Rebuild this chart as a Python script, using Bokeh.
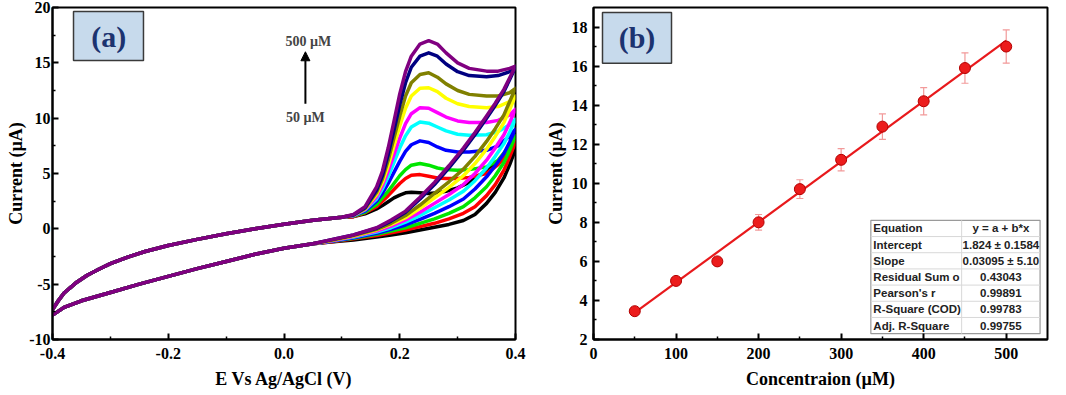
from bokeh.plotting import figure
from bokeh.layouts import row
from bokeh.models import (Range1d, FixedTicker, Whisker, ColumnDataSource, Arrow,
                          NormalHead, Label, BoxAnnotation, TeeHead, PrintfTickFormatter)
from bokeh.embed import file_html
from bokeh.resources import INLINE
from bokeh.core.properties import value

# ---------------- Panel (a): cyclic voltammograms ----------------
cv_labels = ["50 µM", "100 µM", "150 µM", "200 µM", "250 µM",
             "300 µM", "350 µM", "400 µM", "450 µM", "500 µM"]
cv_colors = ["#000000", "#ff0000", "#00e600", "#0000ff", "#00ffff",
             "#ff00ff", "#ffff00", "#808000", "#000080", "#800080"]

# forward scan, common part
E_up = [-0.40, -0.39, -0.38, -0.36, -0.34, -0.32, -0.30, -0.27, -0.24, -0.20,
        -0.15, -0.10, -0.05, 0.00, 0.05, 0.10]
I_up = [-7.3, -6.5, -5.8, -4.9, -4.2, -3.65, -3.15, -2.55, -2.05, -1.5,
        -0.95, -0.45, 0.0, 0.42, 0.78, 1.05]

# forward scan, oxidation peak region
E_fwd = [0.12, 0.14, 0.16, 0.17, 0.18, 0.19, 0.20, 0.21, 0.22, 0.235,
         0.25, 0.265, 0.28, 0.30, 0.32, 0.35, 0.37, 0.39, 0.40]
fwd_50 = [1.1, 1.35, 1.8, 2.1, 2.45, 2.8, 3.05, 3.25, 3.3, 3.25, 3.2, 3.25, 3.4, 3.7, 4.2, 5.3, 6.0, 6.7, 7.2]
fwd_100 = [1.1, 1.45, 2.0, 2.5, 3.0, 3.55, 4.1, 4.55, 4.85, 4.9, 4.75, 4.6, 4.55, 4.55, 4.65, 5.0, 5.8, 7.0, 7.85]
fwd_150 = [1.15, 1.5, 2.2, 2.8, 3.4, 4.1, 4.8, 5.35, 5.75, 5.9, 5.75, 5.5, 5.35, 5.3, 5.35, 5.6, 6.2, 7.5, 8.4]
fwd_200 = [1.2, 1.6, 2.5, 3.2, 4.1, 5.1, 6.1, 7.0, 7.6, 7.95, 7.8, 7.4, 7.1, 6.95, 6.95, 7.1, 7.5, 8.4, 9.0]
fwd_250 = [1.2, 1.7, 2.7, 3.6, 4.7, 6.0, 7.3, 8.4, 9.2, 9.65, 9.55, 9.2, 8.85, 8.55, 8.45, 8.5, 8.8, 9.4, 9.9]
fwd_300 = [1.2, 1.75, 2.9, 3.9, 5.2, 6.7, 8.2, 9.5, 10.4, 10.95, 10.9, 10.5, 10.1, 9.75, 9.6, 9.6, 9.8, 10.3, 10.8]
fwd_350 = [1.25, 1.8, 3.1, 4.2, 5.7, 7.5, 9.3, 10.9, 12.0, 12.7, 12.75, 12.4, 11.8, 11.3, 11.05, 10.95, 11.05, 11.5, 12.0]
fwd_400 = [1.25, 1.85, 3.3, 4.5, 6.2, 8.2, 10.2, 12.0, 13.2, 13.95, 14.1, 13.7, 13.1, 12.5, 12.15, 12.0, 12.0, 12.3, 12.7]
fwd_450 = [1.25, 1.9, 3.5, 4.8, 6.7, 8.9, 11.2, 13.2, 14.6, 15.6, 15.9, 15.6, 14.9, 14.2, 13.85, 13.75, 13.85, 14.2, 14.6]
fwd_500 = [1.3, 2.0, 3.8, 5.2, 7.3, 9.7, 12.2, 14.2, 15.6, 16.7, 17.0, 16.7, 15.9, 15.0, 14.5, 14.25, 14.25, 14.5, 14.7]

# reverse scan, right part
E_rev = [0.40, 0.39, 0.38, 0.365, 0.35, 0.33, 0.31, 0.285, 0.26, 0.235, 0.21, 0.185, 0.16, 0.12, 0.08]
rev_50 = [7.2, 5.8, 4.6, 3.3, 2.3, 1.3, 0.75, 0.4, 0.15, -0.1, -0.35, -0.55, -0.75, -1.0, -1.2]
rev_100 = [7.85, 6.5, 5.3, 4.0, 3.0, 2.0, 1.4, 0.9, 0.5, 0.2, -0.1, -0.35, -0.6, -0.9, -1.2]
rev_150 = [8.4, 7.1, 6.0, 4.8, 3.8, 2.8, 2.0, 1.4, 0.9, 0.5, 0.1, -0.2, -0.5, -0.85, -1.15]
rev_200 = [9.0, 7.85, 6.8, 5.7, 4.7, 3.6, 2.7, 2.0, 1.4, 0.85, 0.35, -0.05, -0.4, -0.8, -1.15]
rev_250 = [9.9, 8.75, 7.7, 6.55, 5.5, 4.35, 3.4, 2.6, 1.9, 1.2, 0.6, 0.1, -0.3, -0.75, -1.1]
rev_300 = [10.8, 9.6, 8.5, 7.3, 6.2, 5.0, 4.0, 3.1, 2.3, 1.5, 0.8, 0.25, -0.2, -0.7, -1.1]
rev_350 = [12.0, 10.8, 9.6, 8.35, 7.2, 5.9, 4.8, 3.75, 2.8, 1.85, 1.0, 0.4, -0.1, -0.65, -1.05]
rev_400 = [12.7, 11.5, 10.3, 9.05, 7.9, 6.55, 5.4, 4.25, 3.2, 2.15, 1.2, 0.5, -0.05, -0.6, -1.05]
rev_450 = [14.6, 13.5, 12.4, 11.15, 10.0, 8.5, 7.1, 5.5, 4.0, 2.7, 1.5, 0.7, 0.05, -0.55, -1.0]
rev_500 = [14.7, 13.65, 12.6, 11.35, 10.2, 8.7, 7.3, 5.7, 4.2, 2.85, 1.6, 0.8, 0.1, -0.55, -1.0]

# reverse scan, common part
E_low = [0.05, 0.00, -0.05, -0.10, -0.15, -0.20, -0.25, -0.30, -0.35, -0.38, -0.40]
I_low = [-1.35, -1.75, -2.3, -2.95, -3.6, -4.3, -5.0, -5.75, -6.5, -7.1, -7.8]

fwd_all = [fwd_50, fwd_100, fwd_150, fwd_200, fwd_250, fwd_300, fwd_350, fwd_400, fwd_450, fwd_500]
rev_all = [rev_50, rev_100, rev_150, rev_200, rev_250, rev_300, rev_350, rev_400, rev_450, rev_500]

# ---------------- Panel (b): calibration ----------------
conc = [50, 100, 150, 200, 250, 300, 350, 400, 450, 500]
peak_current = [3.45, 5.0, 6.0, 8.0, 9.7, 11.2, 12.9, 14.2, 15.9, 17.0]
peak_err = [0.1, 0.15, 0.2, 0.4, 0.48, 0.57, 0.65, 0.7, 0.78, 0.85]
fit_intercept = 1.824
fit_slope = 0.03095
table_names = ["Equation", "Intercept", "Slope", "Residual Sum o", "Pearson's r",
               "R-Square (COD)", "Adj. R-Square"]
table_values = ["y = a + b*x", "1.824 ± 0.1584", "0.03095 ± 5.10", "0.43043",
                "0.99891", "0.99783", "0.99755"]

SERIF = "Liberation Serif"


def style_axes(p):
    p.grid.visible = False
    p.outline_line_color = "black"
    p.outline_line_width = 2
    p.background_fill_color = "white"
    p.border_fill_color = "white"
    for ax in p.axis:
        ax.axis_line_width = 2
        ax.major_tick_in = 6
        ax.major_tick_out = 0
        ax.minor_tick_in = 3
        ax.minor_tick_out = 0
        ax.major_tick_line_width = 2
        ax.minor_tick_line_width = 1.5
        ax.major_label_text_font = SERIF
        ax.major_label_text_font_style = "bold"
        ax.major_label_text_font_size = "16px"
        ax.major_label_text_color = "black"
        ax.axis_label_text_font = SERIF
        ax.axis_label_text_font_style = "bold"
        ax.axis_label_text_font_size = "18px"
        ax.axis_label_text_color = "black"


# ---- figure (a)
pa = figure(width=540, height=395, output_backend="svg", toolbar_location=None,
            x_range=Range1d(-0.4, 0.4), y_range=Range1d(-10, 20),
            min_border_left=52, min_border_right=25, min_border_top=7, min_border_bottom=56,
            x_axis_label="E Vs Ag/AgCl (V)", y_axis_label="Current (µA)")
style_axes(pa)
pa.xaxis.ticker = FixedTicker(ticks=[-0.4, -0.2, 0.0, 0.2, 0.4], minor_ticks=[-0.3, -0.1, 0.1, 0.3])
pa.xaxis.formatter = PrintfTickFormatter(format="%.1f")
pa.yaxis.ticker = FixedTicker(ticks=[-10, -5, 0, 5, 10, 15, 20],
                              minor_ticks=[-7.5, -2.5, 2.5, 7.5, 12.5, 17.5])
pa.yaxis.formatter = PrintfTickFormatter(format="%d")
pa.xaxis.major_label_standoff = 8
pa.xaxis.axis_label_standoff = 7
pa.yaxis.major_label_standoff = 2
pa.yaxis.axis_label_standoff = 0

for col, fw, rv, lab in zip(cv_colors, fwd_all, rev_all, cv_labels):
    xs = E_up + E_fwd + E_rev + E_low
    ys = I_up + fw + rv + I_low
    pa.line(xs, ys, line_color=col, line_width=3.5, line_join="round", line_cap="round")

box_a = BoxAnnotation(left=-0.3637, right=-0.2428, bottom=15.2, top=19.64,
                      fill_color="#c7daec", fill_alpha=1.0, line_color="#3a3a3a",
                      line_width=1.5, line_alpha=1.0)
pa.add_layout(box_a)
pa.add_layout(Label(x=-0.303, y=17.42, text="(a)", text_align="center", text_baseline="middle",
                    text_font=SERIF, text_font_style="bold", text_font_size="30px",
                    text_color="#1c3370"))
pa.add_layout(Arrow(end=NormalHead(size=9, fill_color="black", line_color="black"),
                    x_start=0.037, y_start=11.3, x_end=0.037, y_end=16.0,
                    line_color="black", line_width=2))
pa.add_layout(Label(x=0.042, y=16.9, text="500 µM", text_align="center", text_baseline="middle",
                    text_font=SERIF, text_font_style="bold", text_font_size="14px"))
pa.add_layout(Label(x=0.037, y=10.05, text="50 µM", text_align="center", text_baseline="middle",
                    text_font=SERIF, text_font_style="bold", text_font_size="14px"))

# ---- figure (b)
pb = figure(width=526, height=395, output_backend="svg", toolbar_location=None,
            x_range=Range1d(0, 550), y_range=Range1d(2, 19),
            min_border_left=53, min_border_right=19, min_border_top=7, min_border_bottom=56,
            x_axis_label="Concentraion (µM)", y_axis_label="Current (µA)")
style_axes(pb)
pb.xaxis.ticker = FixedTicker(ticks=[0, 100, 200, 300, 400, 500],
                              minor_ticks=[50, 150, 250, 350, 450])
pb.yaxis.ticker = FixedTicker(ticks=[2, 4, 6, 8, 10, 12, 14, 16, 18],
                              minor_ticks=[3, 5, 7, 9, 11, 13, 15, 17])
pb.xaxis.major_label_standoff = 8
pb.xaxis.axis_label_standoff = 7
pb.yaxis.major_label_standoff = 6
pb.yaxis.axis_label_standoff = 3

src = ColumnDataSource(dict(
    x=conc, y=peak_current,
    upper=[c + e for c, e in zip(peak_current, peak_err)],
    lower=[c - e for c, e in zip(peak_current, peak_err)]))
pb.add_layout(Whisker(base="x", upper="upper", lower="lower", source=src,
                      line_color="#f29a9a", line_width=1.2,
                      upper_head=TeeHead(size=7, line_color="#f29a9a", line_width=1.2),
                      lower_head=TeeHead(size=7, line_color="#f29a9a", line_width=1.2)))
fit_x = [conc[0], conc[-1]]
fit_y = [fit_intercept + fit_slope * v for v in fit_x]
pb.line(fit_x, fit_y, line_color="#e8191c", line_width=2.2)
pb.scatter("x", "y", source=src, size=11, fill_color="#ec1c1c", line_color="#b30000", line_width=1)

# table
t_left, t_right, t_div, t_top, t_bot = 336, 541, 446, 8.1, 2.3
n_rows = len(table_names)
rh = (t_top - t_bot) / n_rows
pb.quad(left=[t_left], right=[t_right], top=[t_top], bottom=[t_bot],
        fill_color="white", line_color="#9a9a9a", line_width=1.2)
pb.segment(x0=[t_left] * (n_rows - 1), x1=[t_right] * (n_rows - 1),
           y0=[t_top - rh * (i + 1) for i in range(n_rows - 1)],
           y1=[t_top - rh * (i + 1) for i in range(n_rows - 1)],
           line_color="#d8d8d8", line_width=1)
pb.segment(x0=[t_div], x1=[t_div], y0=[t_bot], y1=[t_top], line_color="#d8d8d8", line_width=1)
row_y = [t_top - rh * (i + 0.5) for i in range(n_rows)]
pb.text(x=[t_left + 3] * n_rows, y=row_y, text=table_names, text_align="left",
        text_baseline="middle", text_font=value("Liberation Sans"), text_font_style="bold",
        text_font_size="11.5px", text_color="#222222")
pb.text(x=[(t_div + t_right) / 2] * n_rows, y=row_y, text=table_values, text_align="center",
        text_baseline="middle", text_font=value("Liberation Sans"), text_font_style="bold",
        text_font_size="11.5px", text_color="#222222")

box_b = BoxAnnotation(left=10.9, right=94.5, bottom=16.14, top=18.74,
                      fill_color="#c7daec", fill_alpha=1.0, line_color="#3a3a3a",
                      line_width=1.5, line_alpha=1.0)
pb.add_layout(box_b)
pb.add_layout(Label(x=52.7, y=17.44, text="(b)", text_align="center", text_baseline="middle",
                    text_font=SERIF, text_font_style="bold", text_font_size="30px",
                    text_color="#1c3370"))

layout = row(pa, pb)
open("out.html", "w").write(file_html(layout, INLINE))
